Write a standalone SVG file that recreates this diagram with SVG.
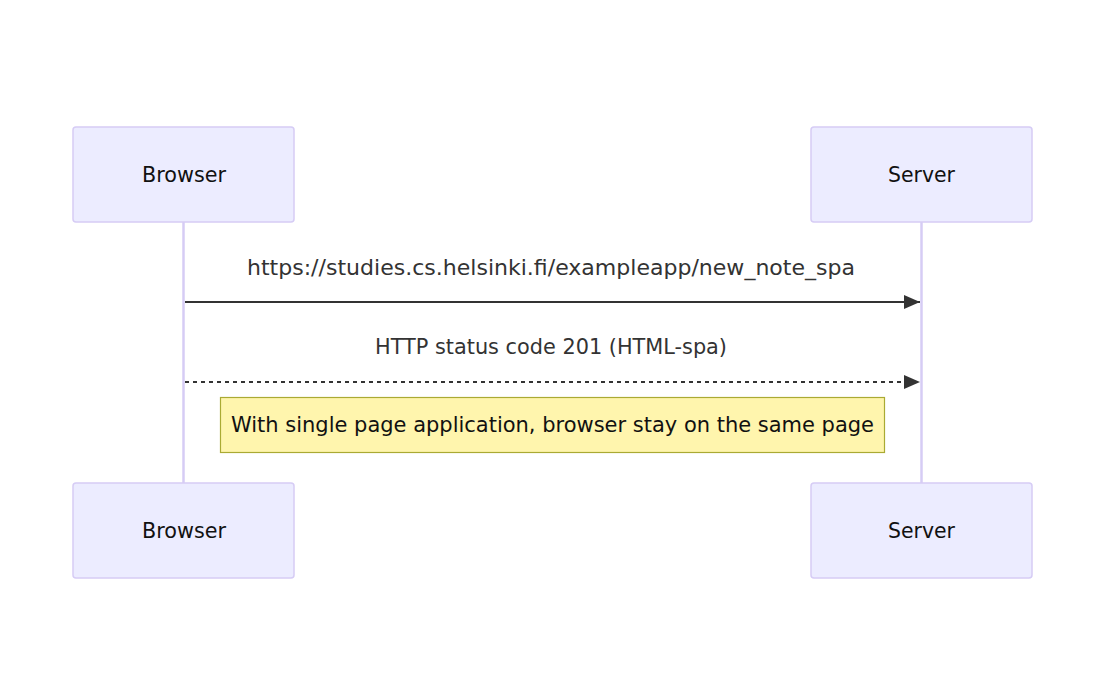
<svg xmlns="http://www.w3.org/2000/svg" width="1109" height="693" viewBox="0 0 1109 693">
<style>
.actor{fill:#ECECFF;stroke:#D6CCF5;stroke-width:1.5}
.atext{font-family:"DejaVu Sans",Verdana,sans-serif;font-size:21px;fill:#111;text-anchor:middle;dominant-baseline:central}
.life{stroke:#D6CCF5;stroke-width:2.5}
.msg{stroke:#333;stroke-width:2;fill:none}
.mtext{font-family:"DejaVu Sans",Verdana,sans-serif;font-size:21px;fill:#333;text-anchor:middle;dominant-baseline:central}
.note{fill:#FFF5AD;stroke:#AAAA33;stroke-width:1.2}
</style>
<defs>
<marker id="arrow" markerWidth="16" markerHeight="14" refX="16" refY="7" viewBox="0 0 16 14" markerUnits="userSpaceOnUse" orient="auto">
<path d="M0,0 L16,7 L0,14 z" fill="#333"/>
</marker>
</defs>
<rect width="1109" height="693" fill="#fff"/>
<g id="lifelines">
<line class="life" x1="183.5" y1="222" x2="183.5" y2="483"/>
<line class="life" x1="921.5" y1="222" x2="921.5" y2="483"/>
</g>
<g id="browser-top"><rect class="actor" x="73" y="127" width="221" height="95" rx="3"/><text class="atext" x="184" y="175" textLength="84" lengthAdjust="spacingAndGlyphs">Browser</text></g>
<g id="server-top"><rect class="actor" x="811" y="127" width="221" height="95" rx="3"/><text class="atext" x="921.5" y="175" textLength="67" lengthAdjust="spacingAndGlyphs">Server</text></g>
<g id="browser-bottom"><rect class="actor" x="73" y="483" width="221" height="95" rx="3"/><text class="atext" x="184" y="531" textLength="84" lengthAdjust="spacingAndGlyphs">Browser</text></g>
<g id="server-bottom"><rect class="actor" x="811" y="483" width="221" height="95" rx="3"/><text class="atext" x="921.5" y="531" textLength="67" lengthAdjust="spacingAndGlyphs">Server</text></g>
<g id="connectors">
<line class="msg" x1="185" y1="302" x2="920" y2="302" marker-end="url(#arrow)"/>
<text class="mtext" x="551" y="268" textLength="608" lengthAdjust="spacingAndGlyphs">https://studies.cs.helsinki.fi/exampleapp/new_note_spa</text>
<line class="msg" x1="185" y1="382" x2="920" y2="382" stroke-dasharray="4,4" marker-end="url(#arrow)"/>
<text class="mtext" x="551" y="347" textLength="352" lengthAdjust="spacingAndGlyphs">HTTP status code 201 (HTML-spa)</text>
</g>
<g id="note"><rect class="note" x="220.5" y="397.5" width="664" height="55"/><text class="atext" x="552.5" y="425" textLength="643" lengthAdjust="spacingAndGlyphs">With single page application, browser stay on the same page</text></g>
</svg>
